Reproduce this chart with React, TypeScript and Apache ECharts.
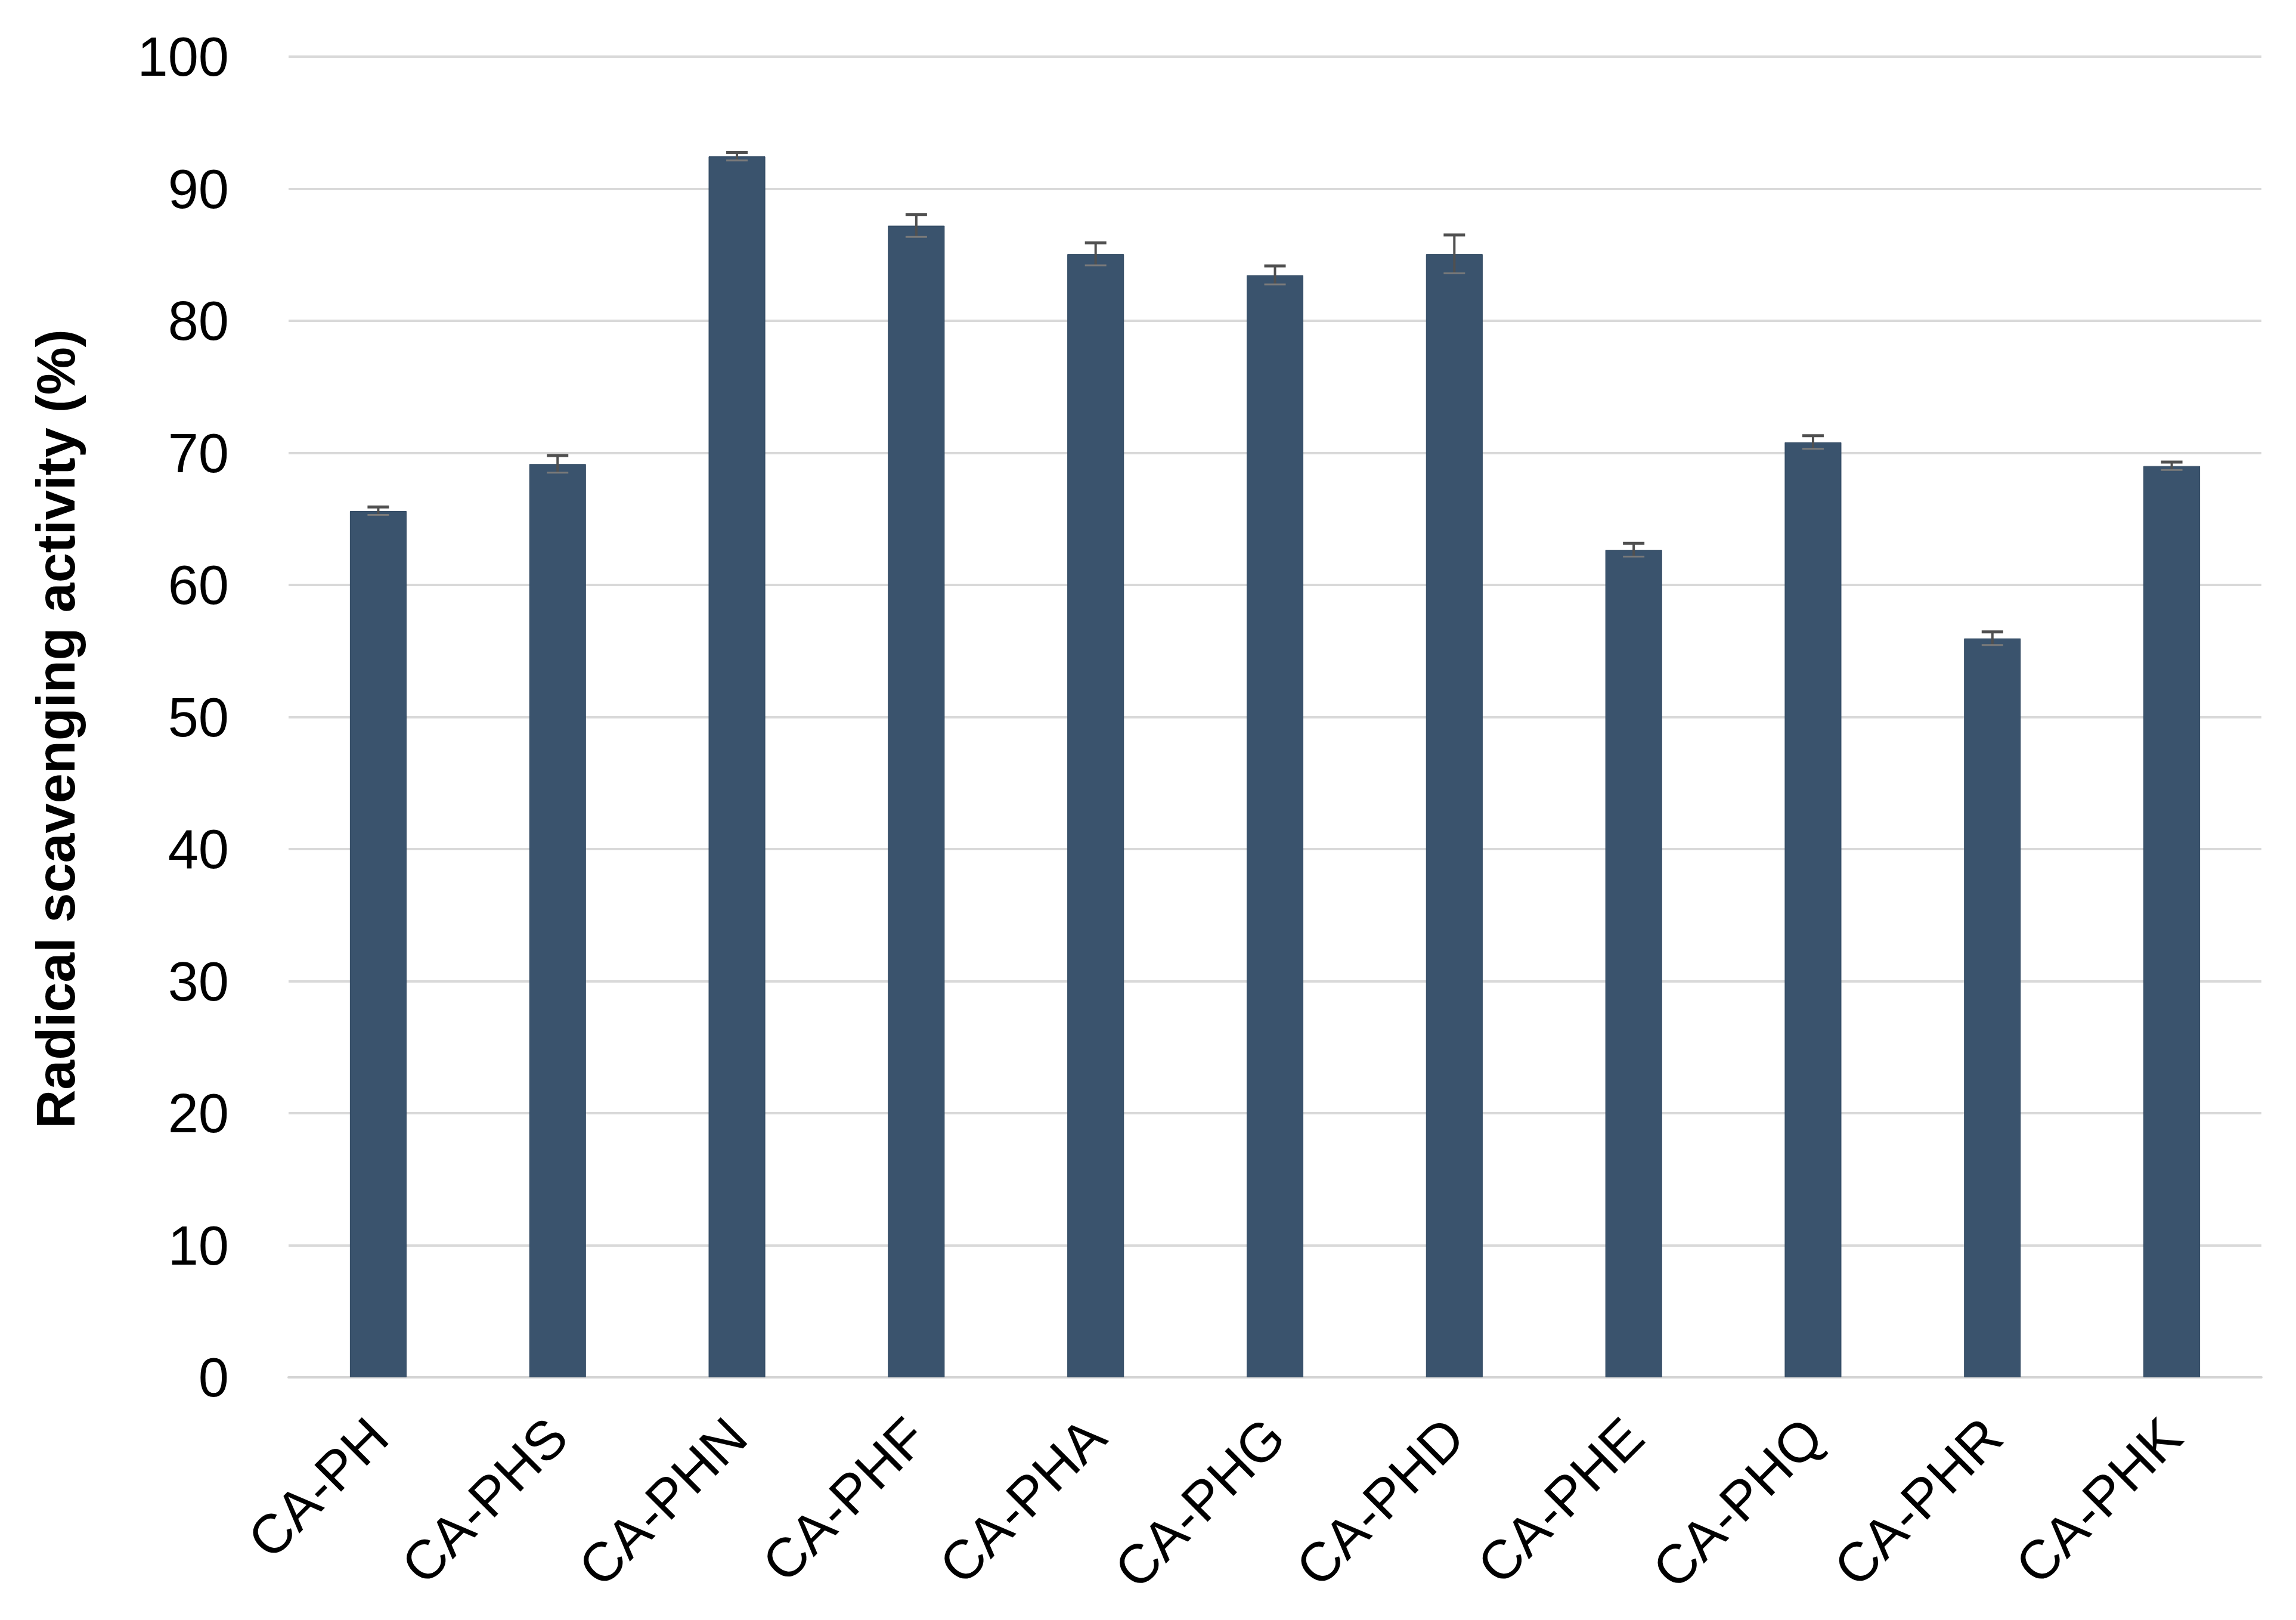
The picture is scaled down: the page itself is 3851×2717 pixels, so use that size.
import React, { useEffect, useRef } from "react";
import * as echarts from "echarts";

const categories = ["CA-PH", "CA-PHS", "CA-PHN", "CA-PHF", "CA-PHA", "CA-PHG", "CA-PHD", "CA-PHE", "CA-PHQ", "CA-PHR", "CA-PHK"];
const activity = [65.6, 69.15, 92.45, 87.2, 85.05, 83.45, 85.05, 62.65, 70.8, 55.95, 69.0];
const errors = [0.3, 0.65, 0.3, 0.85, 0.85, 0.7, 1.45, 0.5, 0.5, 0.5, 0.3];
const yTicks = [0, 10, 20, 30, 40, 50, 60, 70, 80, 90, 100];
const yTitle = "Radical scavenging activity (%)";

const FONT = '"Liberation Sans", Arial, sans-serif';

export default function App() {
  const ref = useRef<HTMLDivElement>(null);
  useEffect(() => {
    document.body.style.margin = "0";
    const chart = echarts.init(ref.current!, undefined, { renderer: "svg" });
    const errData = activity.map((v, i) => [i, v - errors[i], v + errors[i]]);
    chart.setOption({
      animation: false,
      backgroundColor: "#ffffff",
      grid: { left: 484, right: 58, top: 95, bottom: 407, containLabel: false },
      xAxis: {
        type: "category",
        data: categories,
        axisLine: { show: true, lineStyle: { color: "#d4d4d4", width: 4 } },
        axisTick: { show: false },
        axisLabel: {
          rotate: 45,
          interval: 0,
          margin: 84,
          fontSize: 92,
          fontFamily: FONT,
          color: "#000000",
        },
      },
      yAxis: {
        type: "value",
        min: yTicks[0],
        max: yTicks[yTicks.length - 1],
        interval: 10,
        name: yTitle,
        nameLocation: "middle",
        nameRotate: 90,
        nameGap: 345,
        nameTextStyle: {
          fontSize: 90,
          fontWeight: "bold",
          fontFamily: FONT,
          color: "#000000",
          padding: [0, 40, 0, 0],
        },
        axisLine: { show: false },
        axisTick: { show: false },
        splitLine: { show: true, lineStyle: { color: "#d9d9d9", width: 4 } },
        axisLabel: { fontSize: 92, fontFamily: FONT, color: "#000000", margin: 100 },
      },
      series: [
        {
          type: "bar",
          data: activity,
          barCategoryGap: "68.4%",
          itemStyle: { color: "#3a536d", borderColor: "#2f4760", borderWidth: 1 },
          z: 2,
        },
        {
          type: "custom",
          data: errData,
          z: 3,
          renderItem: (params: any, api: any) => {
            const x = api.value(0);
            const lo = api.coord([x, api.value(1)]);
            const hi = api.coord([x, api.value(2)]);
            const half = 18;
            const style = { stroke: "#505050", lineWidth: 4 };
            return {
              type: "group",
              children: [
                { type: "line", shape: { x1: lo[0], y1: lo[1], x2: hi[0], y2: hi[1] }, style },
                { type: "line", shape: { x1: hi[0] - half, y1: hi[1], x2: hi[0] + half, y2: hi[1] }, style: { stroke: "#505050", lineWidth: 5 } },
                { type: "line", shape: { x1: lo[0] - half, y1: lo[1], x2: lo[0] + half, y2: lo[1] }, style: { stroke: "#7a7a7a", lineWidth: 3 } },
              ],
            };
          },
        },
      ],
    });
    return () => chart.dispose();
  }, []);
  return <div ref={ref} style={{ width: 3851, height: 2717 }} />;
}
